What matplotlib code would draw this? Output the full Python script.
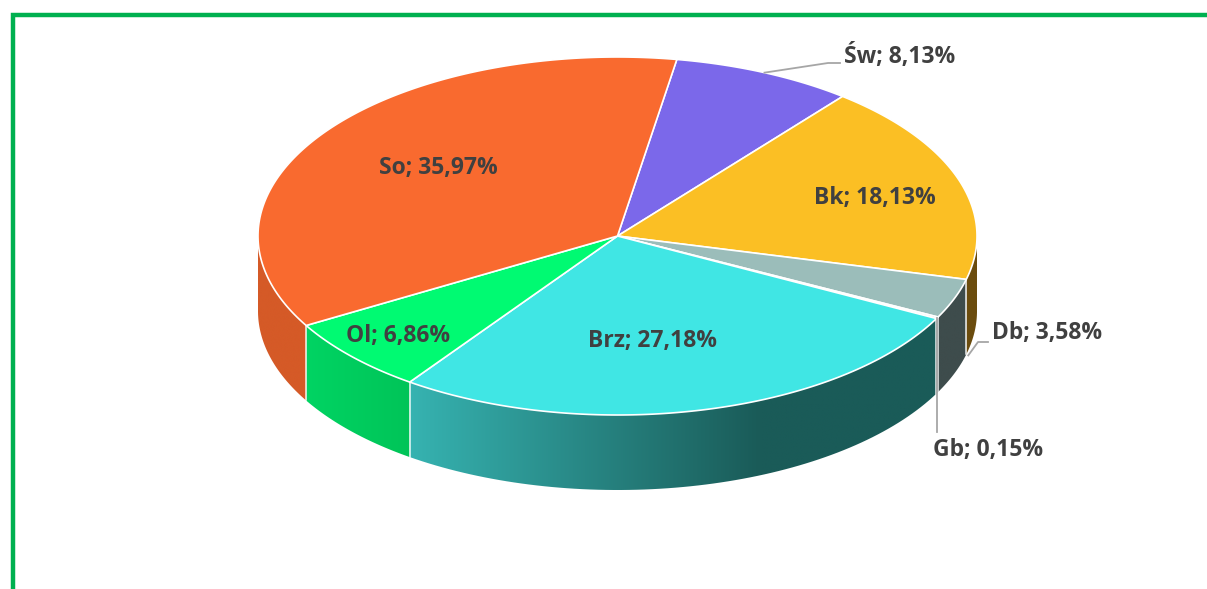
import numpy as np
import matplotlib
matplotlib.use("Agg")
import matplotlib.pyplot as plt
from matplotlib.colors import to_rgb
from matplotlib.patches import Polygon

# dane
kategorie = ["Św", "Bk", "Db", "Gb", "Brz", "Ol", "So"]
udzialy = [8.13, 18.13, 3.58, 0.15, 27.18, 6.86, 35.97]
kolory_gora = ["#7B68EA", "#FBBF24", "#9BBDBA", "#B8C8C8", "#40E6E4", "#00FA72", "#F96A2F"]
# boki: (kolor lewy, kolor prawy)
kolory_bok = [("#5A4BB0", "#5A4BB0"), ("#6B4C0E", "#6B4C0E"), ("#3E4C4C", "#3E4C4C"),
              ("#556060", "#556060"), ("#36B3B1", "#1A5B58"), ("#00D463", "#00C458"),
              ("#D55A27", "#D55A27")]

# geometria (piksele)
CX, CY = 617.5, 236.0
RX, RY = 359.5, 179.0
GLEB = 75.0
KAT_START = 80.5  # stopnie, zgodnie z ruchem wskazówek zegara
W, H = 1207, 589

# pozycje etykiet
poz_etykiet = {
    "Św": (844, 57, "left"), "Bk": (875, 198, "center"), "Db": (992, 333, "left"),
    "Gb": (988, 450, "center"), "Brz": (652, 341, "center"), "Ol": (398, 336, "center"),
    "So": (438, 168, "center"),
}


def punkt(t, dol=0.0):
    r = np.radians(t)
    return CX + RX * np.cos(r), CY - RY * np.sin(r) + dol


fig = plt.figure(figsize=(W / 100, H / 100), dpi=100)
ax = fig.add_axes([0, 0, 1, 1])
ax.set_xlim(0, W)
ax.set_ylim(H, 0)
ax.axis("off")

# ramka
ax.plot([12.5, 12.5, W + 5], [H + 5, 14.5, 14.5], color="#00B050", lw=3.2,
        solid_joinstyle="miter", zorder=1)

# katy wycinkow
katy = []
a = KAT_START
for v in udzialy:
    d = v / 100 * 360
    katy.append((a - d, a))
    a -= d

# boki (widoczne od -180 do 0), gradient poziomy przyciety do sciany
granice = []
for i, (lo, hi) in enumerate(katy):
    for k in (-1, 0, 1):
        l, h = max(lo + 360 * k, -180), min(hi + 360 * k, 0)
        if h <= l:
            continue
        granice += [l, h]
        ts = np.linspace(l, h, 80)
        gora = [punkt(t) for t in ts]
        dol = [punkt(t, GLEB) for t in ts[::-1]]
        sciana = Polygon(gora + dol, closed=True, facecolor="none", edgecolor="none")
        ax.add_patch(sciana)
        xs = [p[0] for p in gora]
        x_l, x_h = min(xs), max(xs)
        x_g = 760.0 if i == 4 else x_h
        xx = np.linspace(x_l, x_h, 200)
        f = np.clip((xx - x_l) / max(x_g - x_l, 1e-6), 0, 1)[:, None]
        c1, c2 = np.array(to_rgb(kolory_bok[i][0])), np.array(to_rgb(kolory_bok[i][1]))
        grad = (c1 + (c2 - c1) * f)[None, :, :]
        y_t = min(p[1] for p in gora) - 1
        y_b = max(p[1] for p in dol) + 1
        im = ax.imshow(grad, extent=(x_l - 1, x_h + 1, y_b, y_t), aspect="auto",
                       interpolation="bilinear", zorder=2)
        im.set_clip_path(sciana)

ax.set_xlim(0, W)
ax.set_ylim(H, 0)

# pionowe krawedzie bokow
for g in sorted(set(np.round(granice, 6))):
    if -179.9 < g < -0.1:
        x0, y0 = punkt(g)
        ax.plot([x0, x0], [y0, y0 + GLEB], color="white", lw=1.1, alpha=0.9, zorder=3)

# gorne powierzchnie
for i, (lo, hi) in enumerate(katy):
    ts = np.linspace(lo, hi, max(int((hi - lo) * 2), 3))
    pts = [(CX, CY)] + [punkt(t) for t in ts]
    ax.add_patch(Polygon(pts, closed=True, facecolor=kolory_gora[i],
                         edgecolor="white", lw=1.2, joinstyle="round", zorder=4))

# linie odniesienia
szary = "#A6A6A6"
sw_mid = sum(katy[0]) / 2
x0, y0 = punkt(sw_mid)
ax.plot([x0, 828, 840], [y0, 63, 63], color=szary, lw=1.3, zorder=5)
x0, y0 = punkt(katy[2][1], GLEB)
ax.plot([x0 + 2, 978, 988], [y0 + 1, 342, 342], color=szary, lw=1.3, zorder=5)
gb_mid = sum(katy[3]) / 2
x0, y0 = punkt(gb_mid)
ax.plot([x0, x0], [y0, 432], color=szary, lw=1.3, zorder=5)

# etykiety
for nazwa, v in zip(kategorie, udzialy):
    x, y, ha = poz_etykiet[nazwa]
    tekst = f"{nazwa}; {v:.2f}%".replace(".", ",")
    ax.text(x, y, tekst, ha=ha, va="center", fontsize=16.5, fontweight="bold",
            family=["Open Sans", "DejaVu Sans"], color="#404040", zorder=6)

fig.savefig("out.png", dpi=100)
